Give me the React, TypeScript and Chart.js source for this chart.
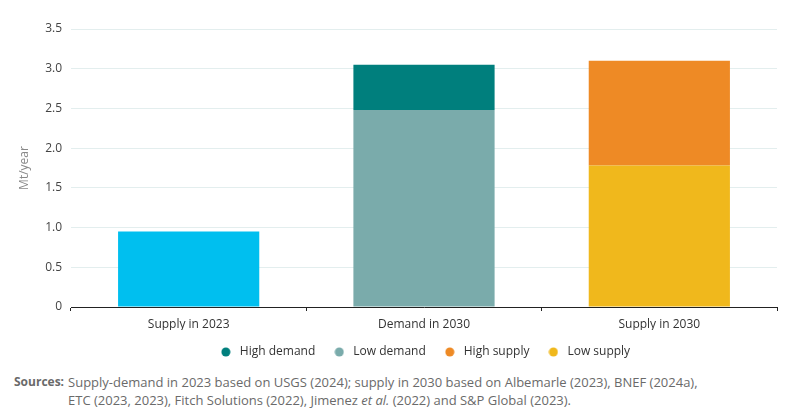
import React, { useEffect, useRef } from "react";
import { Chart, registerables } from "chart.js";

Chart.register(...registerables);

const categories = ["Supply in 2023", "Demand in 2030", "Supply in 2030"];
const supply2023 = [0.95, null, null];
const lowDemand = [null, 2.48, null];
const highDemand = [null, 0.57, null];
const lowSupply = [null, null, 1.78];
const highSupply = [null, null, 1.32];
const yTicks = [0, 0.5, 1.0, 1.5, 2.0, 2.5, 3.0, 3.5];
const legendOrder = ["High demand", "Low demand", "High supply", "Low supply"];

const FONT = "'Open Sans', sans-serif";

function dot(color: string): HTMLCanvasElement {
  const c = document.createElement("canvas");
  c.width = 10;
  c.height = 10;
  const ctx = c.getContext("2d")!;
  ctx.fillStyle = color;
  ctx.beginPath();
  ctx.arc(5, 5, 4.5, 0, Math.PI * 2);
  ctx.fill();
  return c;
}

export default function App() {
  const ref = useRef<HTMLCanvasElement | null>(null);

  useEffect(() => {
    if (!ref.current) return;
    const colors = ["#00BFEF", "#7AABAB", "#007F7D", "#F0B81C", "#EE8A25"];
    const chart = new Chart(ref.current, {
      type: "bar",
      data: {
        labels: categories,
        datasets: [
          { label: "Supply 2023", data: supply2023, backgroundColor: colors[0], pointStyle: dot(colors[0]) },
          { label: "Low demand", data: lowDemand, backgroundColor: colors[1], pointStyle: dot(colors[1]) },
          { label: "High demand", data: highDemand, backgroundColor: colors[2], pointStyle: dot(colors[2]) },
          { label: "Low supply", data: lowSupply, backgroundColor: colors[3], pointStyle: dot(colors[3]) },
          { label: "High supply", data: highSupply, backgroundColor: colors[4], pointStyle: dot(colors[4]) },
        ] as any,
      },
      options: {
        responsive: false,
        animation: false,
        layout: { padding: { top: 29, right: 14, left: 0, bottom: 0 } },
        datasets: { bar: { barPercentage: 0.6, categoryPercentage: 1.0, skipNull: false } },
        plugins: {
          tooltip: { enabled: false },
          legend: {
            position: "bottom",
            fullSize: false,
            labels: {
              usePointStyle: true,
              pointStyleWidth: 16,
              boxHeight: 6.5,
              padding: 16,
              color: "#333",
              font: { family: FONT, size: 12 },
              filter: (item: any) => legendOrder.includes(item.text),
              sort: (a: any, b: any) => legendOrder.indexOf(a.text) - legendOrder.indexOf(b.text),
            },
          },
        },
        scales: {
          x: {
            stacked: true,
            grid: {
              offset: true,
              drawOnChartArea: false,
              drawTicks: true,
              tickLength: 4,
              color: "#222",
            },
            border: { color: "#222", width: 1 },
            ticks: { color: "#333", padding: 6, font: { family: FONT, size: 12 } },
            afterFit: (s: any) => { s.height = 23; },
          },
          y: {
            stacked: true,
            min: 0,
            max: 3.5,
            afterBuildTicks: (s: any) => { s.ticks = yTicks.map((v) => ({ value: v })); },
            grid: { color: "#E3EEEE", drawTicks: false },
            border: { display: false },
            ticks: {
              color: "#444",
              padding: 9,
              font: { family: FONT, size: 12 },
              callback: (v: any) => (v === 0 ? "0" : Number(v).toFixed(1)),
            },
            title: {
              display: true,
              text: "Mt/year",
              color: "#888",
              font: { family: FONT, size: 12 },
              padding: { top: 17, bottom: 0 },
            },
            afterFit: (s: any) => { s.width = 71; },
          },
        },
      },
    });
    return () => chart.destroy();
  }, []);

  return (
    <div style={{ position: "absolute", left: 0, top: 0, width: 791, height: 414, background: "#fff" }}>
      <canvas ref={ref} width={791} height={368} style={{ position: "absolute", left: 0, top: 0 }} />
      <div
        style={{
          position: "absolute",
          left: 14,
          top: 373,
          width: 760,
          display: "flex",
          fontFamily: FONT,
          fontSize: 13,
          lineHeight: "18px",
          color: "#6a6a6a",
        }}
      >
        <span style={{ fontWeight: 700, fontSize: 12, marginRight: 4, whiteSpace: "nowrap" }}>Sources:</span>
        <span>
          Supply-demand in 2023 based on USGS (2024); supply in 2030 based on Albemarle (2023), BNEF (2024a),
          <br />
          ETC (2023, 2023), Fitch Solutions (2022), Jimenez <i>et al.</i> (2022) and S&amp;P Global (2023).
        </span>
      </div>
    </div>
  );
}
